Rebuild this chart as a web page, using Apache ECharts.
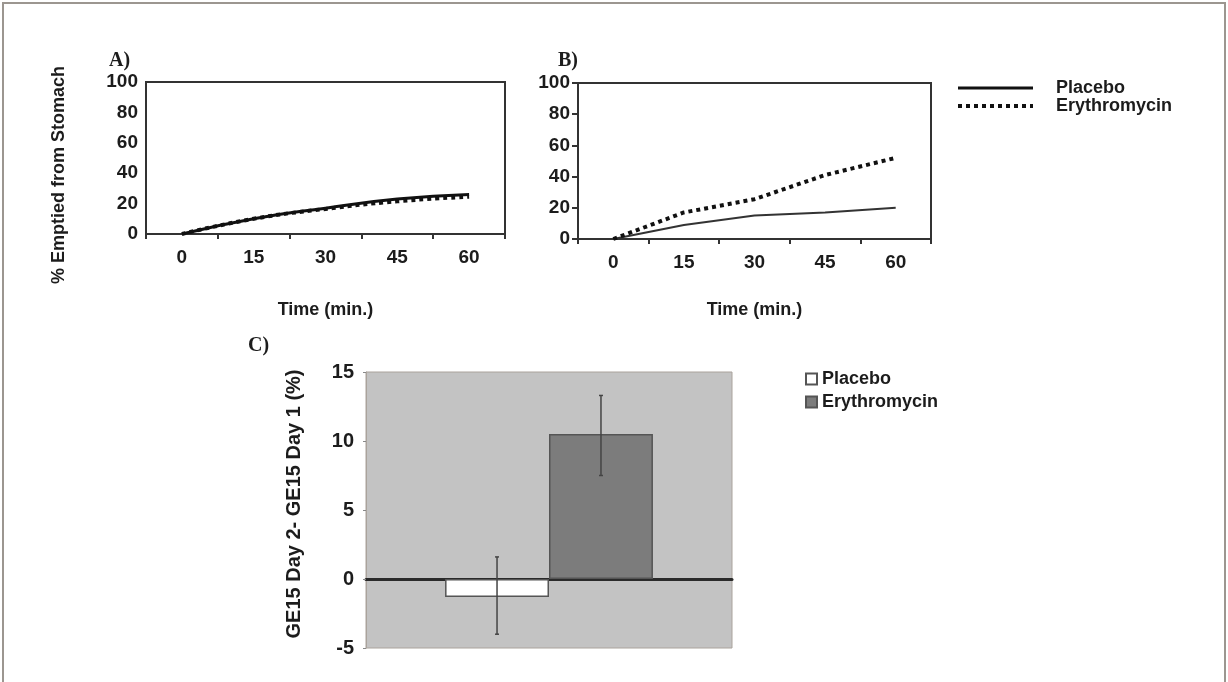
<!DOCTYPE html>
<html>
<head>
<meta charset="utf-8">
<script src="https://cdn.jsdelivr.net/npm/echarts@6/dist/echarts.min.js"></script>
<style>
  html, body { margin: 0; padding: 0; background: #fff; }
  #chart { width: 1228px; height: 682px; }
</style>
</head>
<body>
<div id="chart"></div>
<script>
// time points (min.)
const timeLabels = ['0', '15', '30', '45', '60']
// panel A: % emptied from stomach
const placeboA = [0, 10, 17, 23, 26]
const erythroA = [0, 10, 16.5, 21.5, 24.5]
// panel B
const placeboB = [0, 9, 15, 17, 20]
const erythroB = [0, 17, 25.5, 41, 52]
// panel C: GE15 day2 - day1 (%) with error bars
const groupC = ['']
const meanC = [-1.3, 10.5]
const errLowC = [-4.0, 7.5]
const errHighC = [1.6, 13.3]

const txt = '#1c1c1c'
const font = 'Liberation Sans'
const lbl = { color: txt, fontFamily: font, fontSize: 18, fontWeight: 'bold' }
const tickLbl = Object.assign({}, lbl, { fontSize: 19 })

const myChart = echarts.init(document.getElementById('chart'))

const lineX = (gridIndex, gap) => ({
  type: 'category',
  gridIndex: gridIndex,
  data: timeLabels,
  boundaryGap: true,
  name: 'Time (min.)',
  nameLocation: 'middle',
  nameGap: gap,
  nameTextStyle: lbl,
  axisLine: { lineStyle: { color: '#333', width: 2 } },
  axisTick: { show: true, length: 5, lineStyle: { color: '#333', width: 2 } },
  axisLabel: Object.assign({ margin: 14 }, tickLbl)
})

myChart.setOption({
  animation: false,
  backgroundColor: '#fff',
  graphic: [
    {
      type: 'rect',
      shape: { x: 3, y: 3, width: 1222, height: 690 },
      style: { fill: 'none', stroke: '#9c9690', lineWidth: 2 }
    }
  ],
  title: [
    { text: 'A)', left: 104, top: 46, textStyle: { fontFamily: 'Liberation Serif', fontSize: 20, fontWeight: 'bold', color: txt } },
    { text: 'B)', left: 553, top: 46, textStyle: { fontFamily: 'Liberation Serif', fontSize: 20, fontWeight: 'bold', color: txt } },
    { text: 'C)', left: 243, top: 331, textStyle: { fontFamily: 'Liberation Serif', fontSize: 20, fontWeight: 'bold', color: txt } }
  ],
  legend: [
    {
      data: [
        { name: 'Placebo', lineStyle: { width: 3, color: '#111' } },
        { name: 'Erythromycin', lineStyle: { width: 4, color: '#111', type: [4, 4] } }
      ],
      orient: 'vertical',
      left: 951,
      top: 74,
      itemWidth: 75,
      itemHeight: 12,
      itemGap: 0,
      itemStyle: { opacity: 0 },
      textStyle: Object.assign({}, lbl, { padding: [0, 0, 0, 18], lineHeight: 15 })
    },
    {
      data: ['Placebo|C', 'Erythromycin|C'],
      orient: 'vertical',
      left: 800,
      top: 365,
      icon: 'rect',
      itemWidth: 11,
      itemHeight: 11,
      itemGap: 5,
      formatter: (name) => name.split('|')[0],
      textStyle: lbl
    }
  ],
  grid: [
    { left: 146, top: 82, width: 359, height: 152, show: true, borderColor: '#333', borderWidth: 2 },
    { left: 578, top: 83, width: 353, height: 156, show: true, borderColor: '#333', borderWidth: 2 },
    { left: 366, top: 372, width: 366, height: 276, show: true, backgroundColor: '#c3c3c3', borderColor: '#aaa39c', borderWidth: 1 }
  ],
  xAxis: [
    lineX(0, 67),
    lineX(1, 62),
    {
      type: 'category',
      gridIndex: 2,
      data: groupC,
      axisLine: { onZero: true, lineStyle: { color: '#2a2a2a', width: 3 } },
      axisTick: { show: false },
      axisLabel: { show: false }
    }
  ],
  yAxis: [
    {
      type: 'value',
      gridIndex: 0,
      min: 0,
      max: 100,
      interval: 20,
      name: '% Emptied from Stomach',
      nameLocation: 'middle',
      nameGap: 78,
      nameTextStyle: Object.assign({}, lbl, { padding: [0, 34, 0, 0] }),
      axisLine: { show: true, lineStyle: { color: '#333', width: 2 } },
      axisTick: { show: false },
      splitLine: { show: false },
      axisLabel: Object.assign({ margin: 8 }, tickLbl)
    },
    {
      type: 'value',
      gridIndex: 1,
      min: 0,
      max: 100,
      interval: 20,
      axisLine: { show: true, lineStyle: { color: '#333', width: 2 } },
      axisTick: { show: true, length: 6, lineStyle: { color: '#333', width: 2 } },
      splitLine: { show: false },
      axisLabel: Object.assign({ margin: 8 }, tickLbl)
    },
    {
      type: 'value',
      gridIndex: 2,
      min: -5,
      max: 15,
      interval: 5,
      name: 'GE15 Day 2- GE15 Day 1 (%)',
      nameLocation: 'middle',
      nameGap: 62,
      nameTextStyle: Object.assign({}, lbl, { fontSize: 20, padding: [0, 0, 0, 12] }),
      axisLine: { show: true, lineStyle: { color: '#aaa39c', width: 1 } },
      axisTick: { show: true, length: 3, lineStyle: { color: '#888' } },
      splitLine: { show: false },
      axisLabel: Object.assign({ margin: 12 }, lbl, { fontSize: 20 })
    }
  ],
  series: [
    {
      name: 'Placebo',
      type: 'line',
      xAxisIndex: 0,
      yAxisIndex: 0,
      data: placeboA,
      smooth: true,
      symbol: 'none',
      lineStyle: { color: '#111', width: 3 },
      itemStyle: { color: '#111' },
      z: 3
    },
    {
      name: 'Erythromycin',
      type: 'line',
      xAxisIndex: 0,
      yAxisIndex: 0,
      data: erythroA,
      smooth: true,
      symbol: 'none',
      lineStyle: { color: '#111', width: 4, type: [4, 4] },
      itemStyle: { color: '#111' },
      z: 4
    },
    {
      name: 'Placebo',
      type: 'line',
      xAxisIndex: 1,
      yAxisIndex: 1,
      data: placeboB,
      symbol: 'none',
      lineStyle: { color: '#333', width: 2 }
    },
    {
      name: 'Erythromycin',
      type: 'line',
      xAxisIndex: 1,
      yAxisIndex: 1,
      data: erythroB,
      symbol: 'none',
      lineStyle: { color: '#111', width: 4, type: [4, 4] }
    },
    {
      name: 'Placebo|C',
      type: 'bar',
      xAxisIndex: 2,
      yAxisIndex: 2,
      data: [meanC[0]],
      barWidth: '28.4%',
      barGap: '0%',
      itemStyle: { color: '#ffffff', borderColor: '#555', borderWidth: 1.5 }
    },
    {
      name: 'Erythromycin|C',
      type: 'bar',
      xAxisIndex: 2,
      yAxisIndex: 2,
      data: [meanC[1]],
      barWidth: '28.4%',
      barGap: '0%',
      itemStyle: { color: '#7c7c7c', borderColor: '#555', borderWidth: 1.5 }
    },
    {
      type: 'custom',
      xAxisIndex: 2,
      yAxisIndex: 2,
      z: 5,
      data: meanC.map((m, i) => [0, errLowC[i], errHighC[i], i]),
      encode: { x: 0, y: [1, 2] },
      renderItem: function (params, api) {
        const band = api.size([1, 0])[0]
        const half = band * 0.284 / 2
        const shift = api.value(3) === 0 ? -half : half
        const lo = api.coord([api.value(0), api.value(1)])
        const hi = api.coord([api.value(0), api.value(2)])
        const x = lo[0] + shift
        const st = { stroke: '#444', lineWidth: 1.5 }
        return {
          type: 'group',
          children: [
            { type: 'line', shape: { x1: x, y1: lo[1], x2: x, y2: hi[1] }, style: st },
            { type: 'line', shape: { x1: x - 2, y1: lo[1], x2: x + 2, y2: lo[1] }, style: st },
            { type: 'line', shape: { x1: x - 2, y1: hi[1], x2: x + 2, y2: hi[1] }, style: st }
          ]
        }
      }
    }
  ]
})
</script>
</body>
</html>
